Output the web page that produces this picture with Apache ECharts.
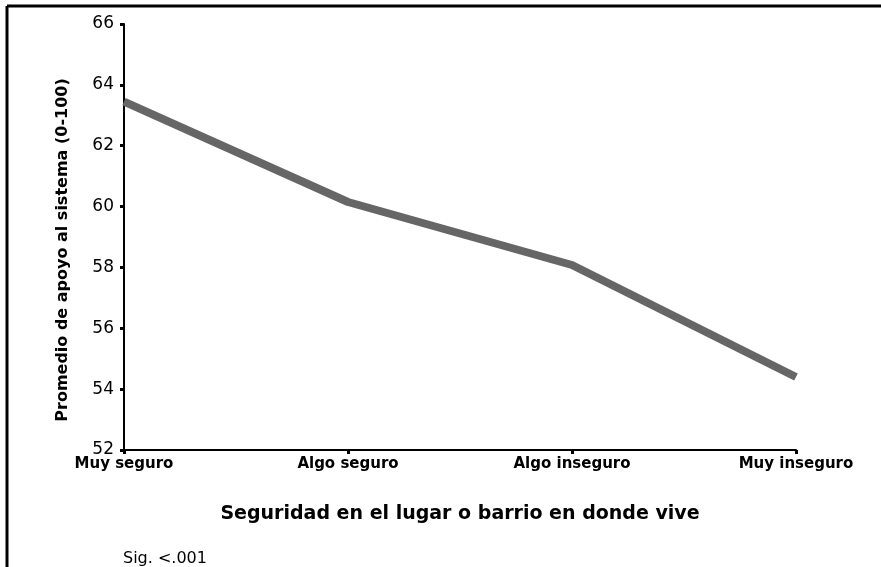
<!DOCTYPE html>
<html>
<head>
<meta charset="utf-8">
<script src="https://cdn.jsdelivr.net/npm/echarts@6/dist/echarts.min.js"></script>
<style>
  html, body { margin: 0; padding: 0; background: #fff; }
  #chart { width: 881px; height: 567px; }
</style>
</head>
<body>
<div id="chart"></div>
<script>
// categorias del eje x
const categorias = ["Muy seguro", "Algo seguro", "Algo inseguro", "Muy inseguro"];
// promedio de apoyo al sistema
const apoyo = [63.45, 60.15, 58.08, 54.4];
// eje y
const yMin = 52;
const yMax = 66;
const yStep = 2;

const chart = echarts.init(document.getElementById("chart"));

const option = {
  backgroundColor: "#fff",
  animation: false,
  grid: { left: 124, top: 24, right: 85, bottom: 117 },
  xAxis: {
    type: "category",
    data: categorias,
    boundaryGap: false,
    name: "Seguridad en el lugar o barrio en donde vive",
    nameLocation: "middle",
    nameGap: 55,
    nameTextStyle: { fontFamily: "DejaVu Sans", fontWeight: "bold", fontSize: 19, color: "#000" },
    axisLine: { lineStyle: { color: "#000", width: 2 } },
    axisTick: { show: true, alignWithLabel: true, length: 4, lineStyle: { color: "#000", width: 3 } },
    axisLabel: { fontFamily: "DejaVu Sans", fontWeight: "bold", fontSize: 15, color: "#000", margin: 7, interval: 0 },
    splitLine: { show: false }
  },
  yAxis: {
    type: "value",
    min: yMin,
    max: yMax,
    interval: yStep,
    name: "Promedio de apoyo al sistema (0-100)",
    nameLocation: "middle",
    nameGap: 53,
    nameRotate: 90,
    nameTextStyle: { fontFamily: "DejaVu Sans", fontWeight: "bold", fontSize: 16, color: "#000", padding: [0, 26, 0, 0] },
    axisLine: { show: true, lineStyle: { color: "#000", width: 2 } },
    axisTick: { show: true, length: 4, lineStyle: { color: "#000", width: 3 } },
    axisLabel: { fontFamily: "DejaVu Sans", fontSize: 17, color: "#000", margin: 10 },
    splitLine: { show: false }
  },
  series: [
    {
      type: "line",
      data: apoyo,
      symbol: "none",
      lineStyle: { color: "#666666", width: 8 }
    }
  ],
  graphic: [
    { type: "line", shape: { x1: 7, y1: 6, x2: 881, y2: 6 }, style: { stroke: "#000", lineWidth: 3 } },
    { type: "line", shape: { x1: 7, y1: 6, x2: 7, y2: 567 }, style: { stroke: "#000", lineWidth: 3 } },
    {
      type: "text", left: 123, top: 551,
      style: { text: "Sig. <.001", fontFamily: "DejaVu Sans", fontSize: 16, fill: "#000" }
    }
  ]
};

chart.setOption(option);
</script>
</body>
</html>
